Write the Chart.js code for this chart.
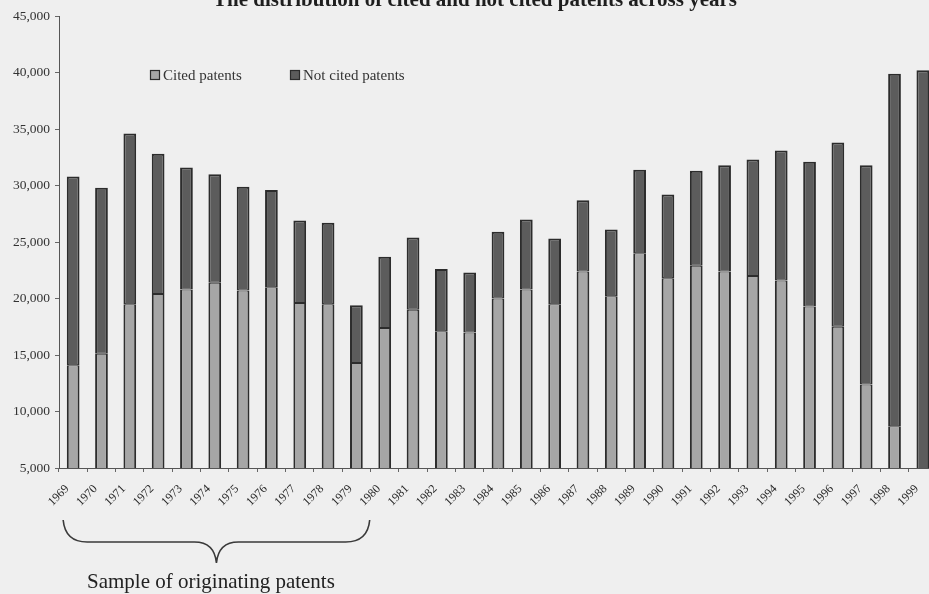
<!DOCTYPE html>
<html>
<head>
<meta charset="utf-8">
<script src="https://cdn.jsdelivr.net/npm/chart.js@4.4.1/dist/chart.umd.min.js"></script>
<style>
  html, body { margin: 0; padding: 0; background: #efefef; overflow: hidden; width: 929px; height: 594px; }
  #wrap { position: relative; width: 940px; height: 594px; }
</style>
</head>
<body>
<div id="wrap"><canvas id="c" width="940" height="594"></canvas></div>
<script>
// Patents per grant year, split by whether they were later cited
const years = ['1969','1970','1971','1972','1973','1974','1975','1976','1977','1978','1979','1980',
               '1981','1982','1983','1984','1985','1986','1987','1988','1989','1990','1991','1992',
               '1993','1994','1995','1996','1997','1998','1999'];
const citedPatents = [14100, 15100, 19500, 20400, 20800, 21400, 20700, 21000, 19600, 19500, 14300, 17400,
                      19000, 17100, 17000, 20000, 20800, 19500, 22400, 20200, 24000, 21800, 22900, 22400,
                      22000, 21600, 19300, 17500, 12400, 8700, 2500];
const notCitedPatents = [16700, 14700, 15100, 12400, 10800, 9600, 9200, 8600, 7300, 7200, 5100, 6300,
                         6400, 5500, 5300, 5900, 6200, 5800, 6300, 5900, 7400, 7400, 8400, 9400,
                         10300, 11500, 12800, 16300, 19400, 31200, 37700];
const yTicks = [5000, 10000, 15000, 20000, 25000, 30000, 35000, 40000, 45000];
const seriesNames = ['Cited patents', 'Not cited patents'];
const titleText = 'The distribution of cited and not cited patents across years';
const bracketText = 'Sample of originating patents';
const bracketFrom = '1969', bracketTo = '1980';

const SERIF = '"Liberation Serif", "Times New Roman", serif';
const INK = '#2c2c2c';

// Title, in-plot legend and the bracket under the early years
const decorations = {
  id: 'decorations',
  afterDraw(chart) {
    const ctx = chart.ctx;
    const x = chart.scales.x;
    ctx.save();

    // title
    ctx.fillStyle = '#1e1e1e';
    ctx.font = 'bold 21px ' + SERIF;
    ctx.textAlign = 'center';
    ctx.textBaseline = 'alphabetic';
    ctx.fillText(titleText, 475, 6);

    // legend
    ctx.font = '15px ' + SERIF;
    ctx.textAlign = 'left';
    ctx.textBaseline = 'middle';
    const legendX = [150, 290];
    const legendY = 75;
    chart.data.datasets.forEach((ds, i) => {
      const bx = legendX[i];
      ctx.fillStyle = ds.backgroundColor;
      ctx.fillRect(bx, legendY - 5, 10, 10);
      ctx.strokeStyle = INK;
      ctx.lineWidth = 1.2;
      ctx.strokeRect(bx + 0.5, legendY - 4.5, 9, 9);
      ctx.fillStyle = '#333';
      ctx.fillText(ds.label, bx + 13, legendY + 1);
    });

    // curly bracket spanning the sample years
    const i0 = years.indexOf(bracketFrom), i1 = years.indexOf(bracketTo);
    const left = x.getPixelForValue(i0) - 10;
    const right = x.getPixelForValue(i1) - 15;
    const mid = (left + right) / 2;
    const top = 520, bar = 542, tip = 563;
    ctx.strokeStyle = '#3a3a3a';
    ctx.lineWidth = 1.6;
    ctx.beginPath();
    ctx.moveTo(left, top);
    ctx.quadraticCurveTo(left + 2, bar, left + 24, bar);
    ctx.lineTo(mid - 22, bar);
    ctx.quadraticCurveTo(mid - 2, bar, mid, tip);
    ctx.quadraticCurveTo(mid + 2, bar, mid + 22, bar);
    ctx.lineTo(right - 24, bar);
    ctx.quadraticCurveTo(right - 2, bar, right, top);
    ctx.stroke();

    ctx.fillStyle = '#222';
    ctx.font = '21px ' + SERIF;
    ctx.textAlign = 'left';
    ctx.textBaseline = 'alphabetic';
    ctx.fillText(bracketText, 87, 588);
    ctx.restore();
  }
};

new Chart(document.getElementById('c'), {
  type: 'bar',
  data: {
    labels: years,
    datasets: [
      { label: seriesNames[0], data: citedPatents, backgroundColor: '#a6a6a6',
        borderWidth: { left: 2, right: 2, bottom: 2, top: 1 } },
      { label: seriesNames[1], data: notCitedPatents, backgroundColor: '#5c5c5c',
        borderWidth: { left: 2, right: 2, bottom: 1, top: 2 } }
    ]
  },
  options: {
    responsive: false,
    animation: false,
    devicePixelRatio: 1,
    layout: { padding: { top: 16, right: 3, bottom: 0, left: 0 } },
    datasets: {
      bar: {
        barPercentage: 0.45,
        categoryPercentage: 1.0,
        borderColor: INK,
        borderSkipped: false,
        inflateAmount: 0
      }
    },
    plugins: {
      legend: { display: false },
      title: { display: false },
      tooltip: { enabled: false }
    },
    scales: {
      x: {
        stacked: true,
        grid: { display: true, drawOnChartArea: false, drawTicks: true, tickLength: 4, color: '#666', offset: true },
        border: { display: true, color: '#555', width: 1 },
        ticks: {
          autoSkip: false,
          minRotation: 45,
          maxRotation: 45,
          padding: 10,
          labelOffset: -6,
          color: '#2a2a2a',
          font: { family: SERIF, size: 12 }
        },
        afterFit(scale) { scale.height = 126; scale.paddingLeft = 0; scale.paddingRight = 0; }
      },
      y: {
        stacked: true,
        min: yTicks[0],
        max: yTicks[yTicks.length - 1],
        afterBuildTicks(scale) { scale.ticks = yTicks.map(v => ({ value: v })); },
        grid: { display: true, drawOnChartArea: false, drawTicks: true, tickLength: 4, color: '#666' },
        border: { display: true, color: '#555', width: 1 },
        ticks: {
          padding: 5,
          color: '#333',
          font: { family: SERIF, size: 13.5 },
          callback: v => Number(v).toLocaleString('en-US')
        },
        afterFit(scale) { scale.width = 59; }
      }
    }
  },
  plugins: [decorations]
});
</script>
</body>
</html>
